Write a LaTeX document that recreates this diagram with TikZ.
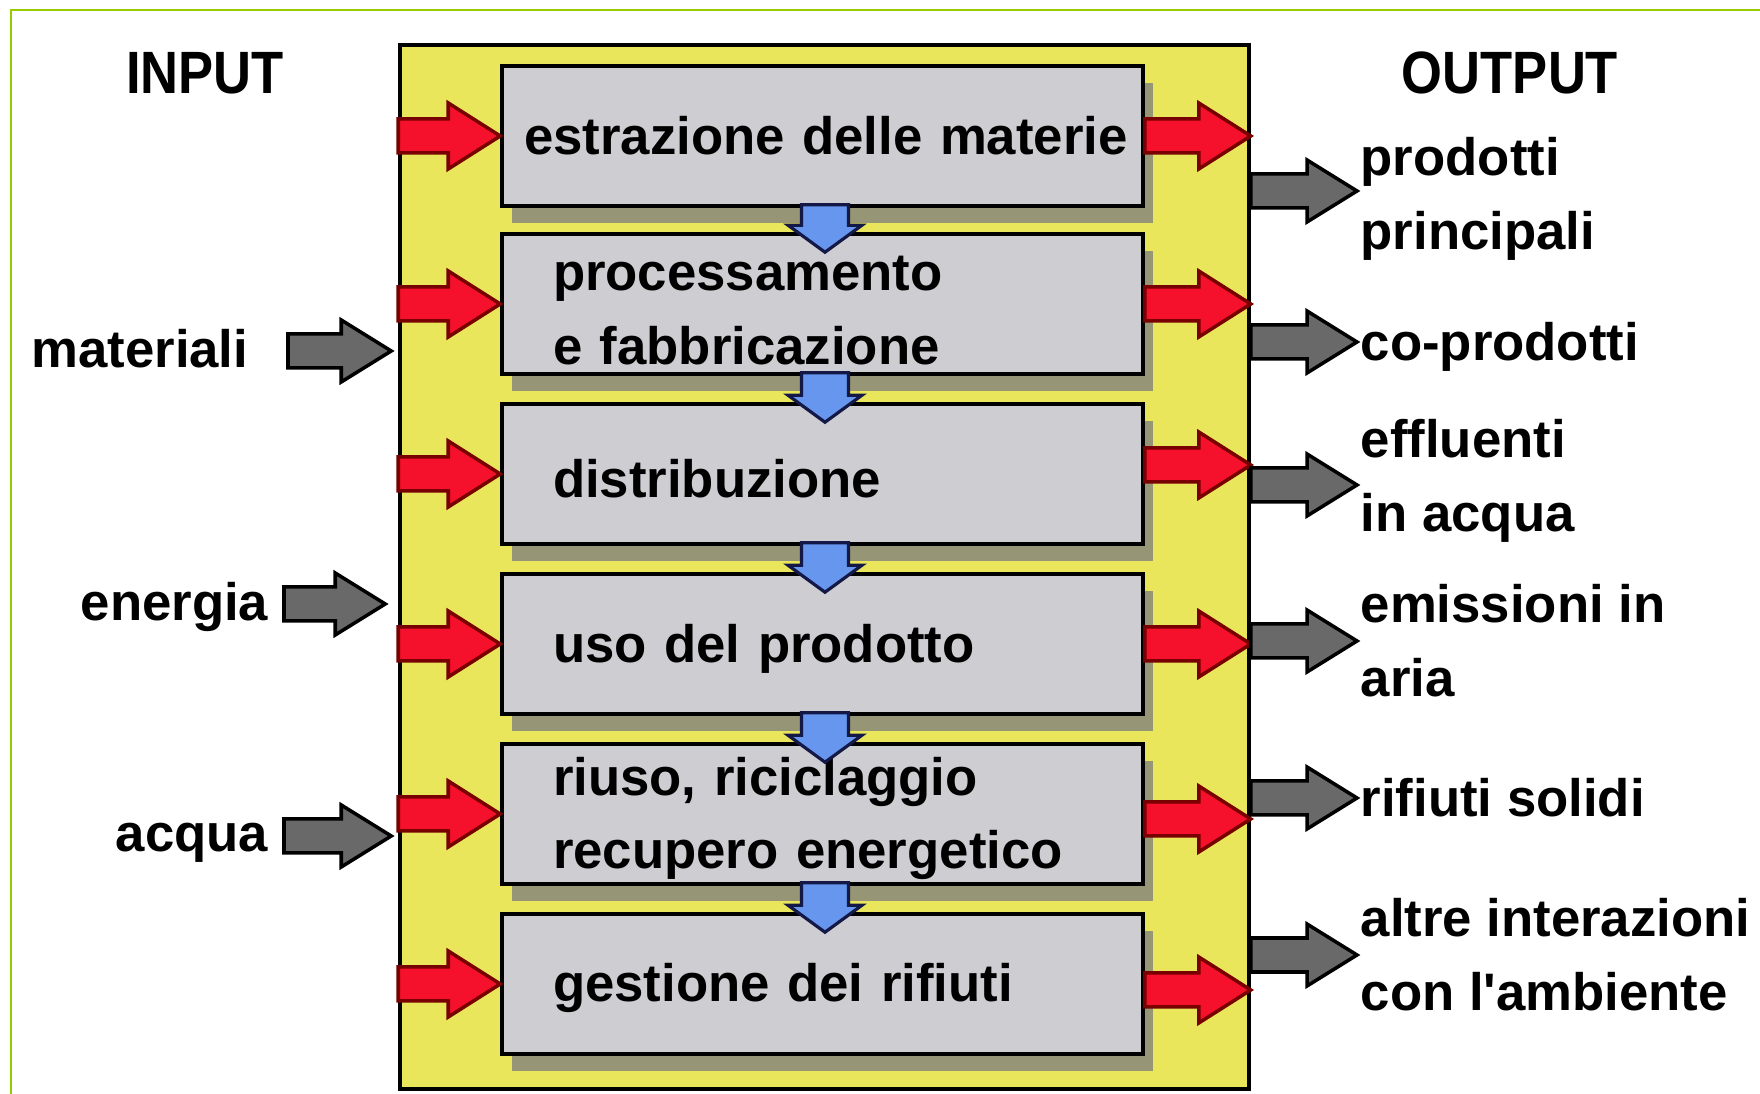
\documentclass[tikz,border=0pt]{standalone}
\usepackage{fontspec}
\setmainfont{Liberation Sans}
\usetikzlibrary{calc, shadows}

\definecolor{framegreen}{RGB}{153,204,0}
\definecolor{lcayellow}{RGB}{234,230,92}
\definecolor{stagegray}{RGB}{205,205,210}
\definecolor{shadowolive}{RGB}{150,150,118}
\definecolor{flowred}{RGB}{245,16,44}
\definecolor{flowdarkred}{RGB}{120,0,0}
\definecolor{flowgray}{RGB}{105,105,105}
\definecolor{flowblue}{RGB}{102,150,238}
\definecolor{flownavy}{RGB}{20,24,70}

\newcommand{\lcafont}{\fontsize{15}{21}\selectfont\bfseries}
\newcommand{\stagestrut}{\rule{0pt}{0.47cm}}

% block arrow: style, tail, tip, half shaft, half head, head length
\newcommand{\fatarrow}[6]{%
  \coordinate (fa-a) at (#2);
  \coordinate (fa-b) at (#3);
  \coordinate (fa-h) at ($(fa-b)!#6!(fa-a)$);
  \draw[#1] ($(fa-a)!#4!90:(fa-b)$) -- ($(fa-h)!#4!-90:(fa-a)$) -- ($(fa-h)!#5!-90:(fa-a)$)
    -- (fa-b) -- ($(fa-h)!#5!90:(fa-a)$) -- ($(fa-h)!#4!90:(fa-a)$) -- ($(fa-a)!#4!-90:(fa-b)$) -- cycle;
}

\tikzset{
  stage/.style={draw, line width=1pt, fill=stagegray, minimum height=1.4cm,
    text width=5.39cm, inner xsep=0.51cm, inner ysep=0pt, align=left, font=\lcafont,
    drop shadow={shadow xshift=0.1cm, shadow yshift=-0.17cm, fill=shadowolive, opacity=1}},
  redflow/.style={fill=flowred, draw=flowdarkred, line width=1pt},
  grayflow/.style={fill=flowgray, draw=black, line width=1pt},
  blueflow/.style={fill=flowblue, draw=flownavy, line width=0.9pt},
  inlab/.style={anchor=east, inner sep=0pt, font=\lcafont},
  outlab/.style={anchor=west, align=left, inner sep=0pt, font=\lcafont},
  heading/.style={inner sep=0pt, font=\fontsize{17}{20}\selectfont\bfseries}
}

\begin{document}
\begin{tikzpicture}

    \useasboundingbox (0,0) rectangle (17.6,10.94);

    % Draw the frame
    \draw[framegreen, line width=0.7pt] (0.11,-0.1) -- (0.11,10.84) -- (17.7,10.84);

    % Draw the life cycle panel
    \node[draw, line width=1pt, fill=lcayellow, minimum width=8.49cm, minimum height=10.44cm,
      inner sep=0pt] (lca) at (8.245,5.27) {};

    % Draw the stages
    \node[stage, inner xsep=0.22cm, text width=5.97cm] (b1) at (8.225,9.58) {\mbox{estrazione delle materie}};
    \node[stage] (b2) at (8.225,7.90) {\stagestrut processamento\\e fabbricazione};
    \node[stage] (b3) at (8.225,6.20) {\stagestrut distribuzione};
    \node[stage] (b4) at (8.225,4.50) {\stagestrut uso del prodotto};
    \node[stage] (b5) at (8.225,2.80) {\stagestrut riuso, riciclaggio\\recupero energetico};
    \node[stage] (b6) at (8.225,1.10) {\stagestrut gestione dei rifiuti};

    % Red arrows into and out of the stages
    \fatarrow{redflow}{lca.west |- b1.west}{b1.west}{0.17cm}{0.33cm}{0.52cm}
    \fatarrow{redflow}{lca.west |- b2.west}{b2.west}{0.17cm}{0.33cm}{0.52cm}
    \fatarrow{redflow}{lca.west |- b3.west}{b3.west}{0.17cm}{0.33cm}{0.52cm}
    \fatarrow{redflow}{lca.west |- b4.west}{b4.west}{0.17cm}{0.33cm}{0.52cm}
    \fatarrow{redflow}{lca.west |- b5.west}{b5.west}{0.17cm}{0.33cm}{0.52cm}
    \fatarrow{redflow}{lca.west |- b6.west}{b6.west}{0.17cm}{0.33cm}{0.52cm}
    \fatarrow{redflow}{b1.east}{lca.east |- b1.east}{0.17cm}{0.33cm}{0.52cm}
    \fatarrow{redflow}{b2.east}{lca.east |- b2.east}{0.17cm}{0.33cm}{0.52cm}
    \fatarrow{redflow}{$(b3.east)+(0,0.09)$}{$(lca.east |- b3.east)+(0,0.09)$}{0.17cm}{0.33cm}{0.52cm}
    \fatarrow{redflow}{b4.east}{lca.east |- b4.east}{0.17cm}{0.33cm}{0.52cm}
    \fatarrow{redflow}{$(b5.east)+(0,-0.05)$}{$(lca.east |- b5.east)+(0,-0.05)$}{0.17cm}{0.33cm}{0.52cm}
    \fatarrow{redflow}{$(b6.east)+(0,-0.06)$}{$(lca.east |- b6.east)+(0,-0.06)$}{0.17cm}{0.33cm}{0.52cm}

    % Blue arrows between the stages
    \fatarrow{blueflow}{$(b1.south)+(0.025,0.03)$}{$(b2.north)+(0.025,-0.2)$}{0.235cm}{0.37cm}{0.27cm}
    \fatarrow{blueflow}{$(b2.south)+(0.025,0.03)$}{$(b3.north)+(0.025,-0.2)$}{0.235cm}{0.37cm}{0.27cm}
    \fatarrow{blueflow}{$(b3.south)+(0.025,0.03)$}{$(b4.north)+(0.025,-0.2)$}{0.235cm}{0.37cm}{0.27cm}
    \fatarrow{blueflow}{$(b4.south)+(0.025,0.03)$}{$(b5.north)+(0.025,-0.2)$}{0.235cm}{0.37cm}{0.27cm}
    \fatarrow{blueflow}{$(b5.south)+(0.025,0.03)$}{$(b6.north)+(0.025,-0.2)$}{0.235cm}{0.37cm}{0.27cm}

    % Label the inputs
    \node[heading] (inp) at (2.05,10.21) {\scalebox{0.88}[1]{INPUT}};
    \node[inlab] (mat) at (2.49,7.45) {materiali};
    \node[inlab] (ene) at (2.69,4.87) {energia};
    \node[inlab] (acq) at (2.69,2.51) {acqua};

    \fatarrow{grayflow}{$(mat.east)+(0.39,-0.02)$}{$(lca.west |- mat.east)+(-0.07,-0.02)$}{0.17cm}{0.31cm}{0.5cm}
    \fatarrow{grayflow}{$(ene.east)+(0.15,0.03)$}{$(lca.west |- ene.east)+(-0.13,0.03)$}{0.17cm}{0.31cm}{0.5cm}
    \fatarrow{grayflow}{$(acq.east)+(0.15,0.07)$}{$(lca.west |- acq.east)+(-0.07,0.07)$}{0.17cm}{0.31cm}{0.5cm}

    % Label the outputs
    \node[heading] (outp) at (15.10,10.21) {\scalebox{0.88}[1]{OUTPUT}};
    \node[outlab] (o1) at (13.60,8.95) {prodotti\\principali};
    \node[outlab] (o2) at (13.60,7.47) {co-prodotti};
    \node[outlab] (o3) at (13.60,6.13) {effluenti\\in acqua};
    \node[outlab] (o4) at (13.60,4.53) {emissioni in\\aria};
    \node[outlab] (o5) at (13.60,2.96) {rifiuti solidi};
    \node[outlab] (o6) at (13.60,1.39) {altre interazioni\\con l\textquotesingle ambiente};

    \fatarrow{grayflow}{$(lca.east |- o1.west)+(0,0.08)$}{$(o1.west)+(-0.03,0.08)$}{0.17cm}{0.31cm}{0.5cm}
    \fatarrow{grayflow}{$(lca.east |- o2.west)+(0,0.05)$}{$(o2.west)+(-0.03,0.05)$}{0.17cm}{0.31cm}{0.5cm}
    \fatarrow{grayflow}{$(lca.east |- o3.west)+(0,-0.04)$}{$(o3.west)+(-0.03,-0.04)$}{0.17cm}{0.31cm}{0.5cm}
    \fatarrow{grayflow}{lca.east |- o4.west}{$(o4.west)+(-0.03,0)$}{0.17cm}{0.31cm}{0.5cm}
    \fatarrow{grayflow}{lca.east |- o5.west}{$(o5.west)+(-0.03,0)$}{0.17cm}{0.31cm}{0.5cm}
    \fatarrow{grayflow}{lca.east |- o6.west}{$(o6.west)+(-0.03,0)$}{0.17cm}{0.31cm}{0.5cm}

\end{tikzpicture}
\end{document}
